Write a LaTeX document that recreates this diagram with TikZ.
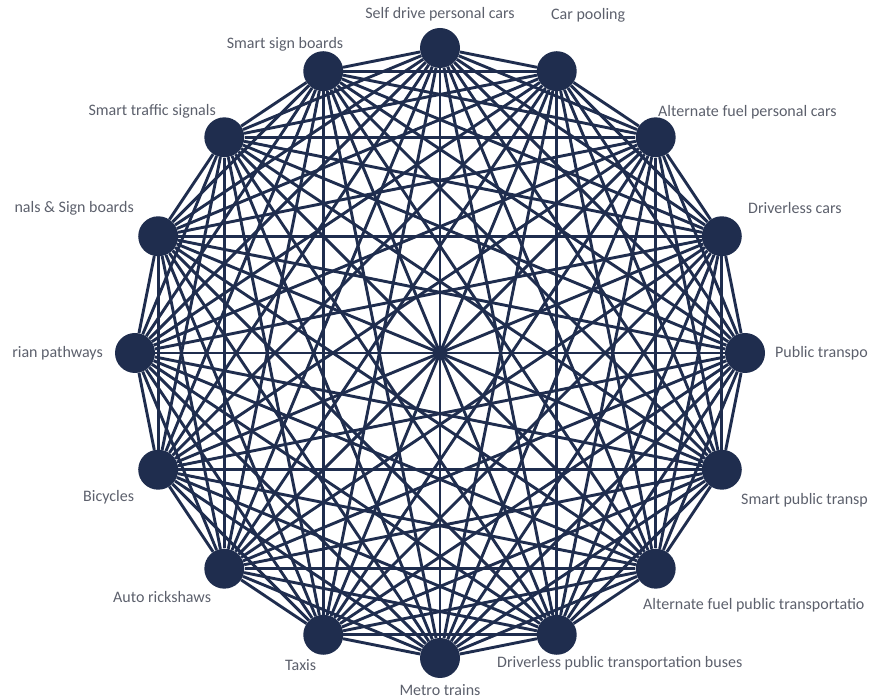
\documentclass[tikz,border=0pt]{standalone}
\usepackage{fontspec}
\setmainfont{Carlito}
\usepackage{tikz}
\definecolor{navy}{RGB}{31,45,78}
\definecolor{labelgrey}{RGB}{92,96,108}

\begin{document}
\begin{tikzpicture}[x=1pt,y=1pt,
    mode/.style={circle,fill=navy,minimum size=40pt,inner sep=0pt},
    link/.style={navy,line width=2.9pt},
    lbl/.style={text=labelgrey,font=\fontsize{16}{19}\selectfont,inner sep=0pt}]
  \clip (0,0) rectangle (870,700);
  \coordinate (c) at (440,347);
  % sixteen modes on a ring
  \foreach \i [evaluate=\i as \a using 90-22.5*\i] in {0,...,15}
    \node[mode] (n\i) at ([shift={(\a:305pt)}]c) {};
  % every mode linked to every other
  \foreach \i in {0,...,14} {
    \pgfmathtruncatemacro\nxt{\i+1}
    \foreach \j in {\nxt,...,15}
      \draw[link] (n\i) -- (n\j);
  }
  % labels
  \node[lbl] (l0) at (440,686) {Self drive personal cars};
  \node[lbl,anchor=west] (l1) at (551,685) {Car pooling};
  \node[lbl,anchor=west] (l2) at (658,588) {Alternate fuel personal cars};
  \node[lbl,anchor=west] (l3) at (748,492) {Driverless cars};
  \node[lbl,anchor=west] (l4) at (775,347) {Public transpo};
  \node[lbl,anchor=west] (l5) at (741,200) {Smart public transp};
  \node[lbl,anchor=west] (l6) at (643,95) {Alternate fuel public transportatio};
  \node[lbl,anchor=west] (l7) at (497,37) {Driverless public transportation buses};
  \node[lbl] (l8) at (440,10) {Metro trains};
  \node[lbl,anchor=west] (l9) at (285,35) {Taxis};
  \node[lbl,anchor=west] (l10) at (113,103) {Auto rickshaws};
  \node[lbl,anchor=west] (l11) at (83,203) {Bicycles};
  \node[lbl,anchor=east] (l12) at (103,347) {rian pathways};
  \node[lbl,anchor=east] (l13) at (134,492) {nals \& Sign boards};
  \node[lbl,anchor=east] (l14) at (216,589) {Smart traffic signals};
  \node[lbl] (l15) at (285,656) {Smart sign boards};
\end{tikzpicture}
\end{document}
